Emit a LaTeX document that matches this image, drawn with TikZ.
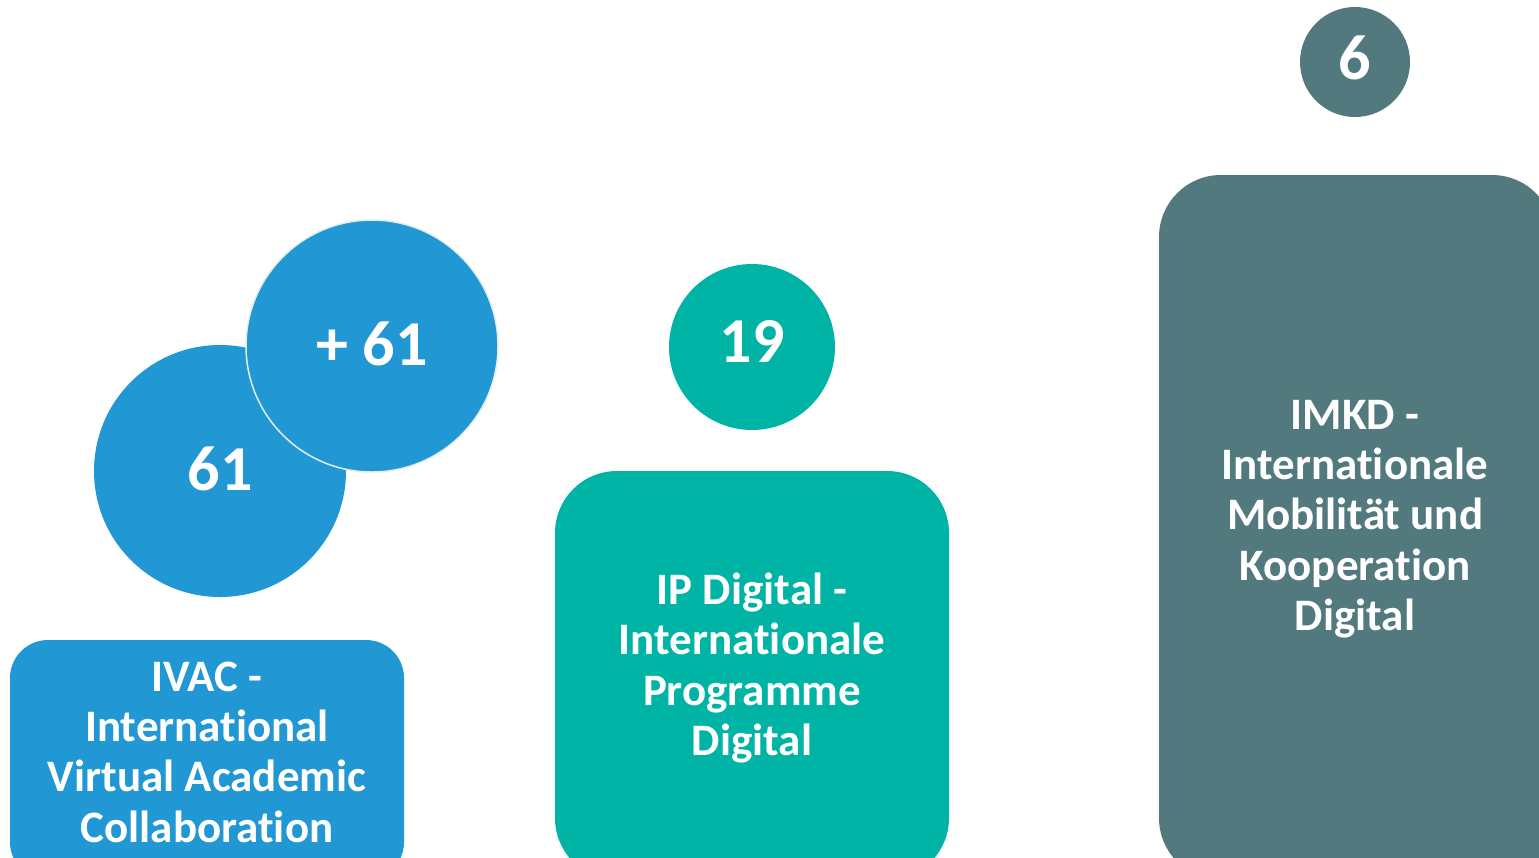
\documentclass[tikz,border=0pt]{standalone}
\usepackage{fontspec}
\setmainfont[Ligatures={NoCommon}]{Carlito}
\definecolor{cblue}{HTML}{2197D3}
\definecolor{cteal}{HTML}{00B4A5}
\definecolor{cslate}{HTML}{52797D}
\definecolor{cedge}{HTML}{E3EEF2}
\begin{document}
\begin{tikzpicture}[x=1pt,y=-1pt,
  num/.style={text=white,font=\fontsize{64}{64}\selectfont\bfseries},
  lbl/.style={text=white,align=center,font=\fontsize{45}{50.3}\selectfont\bfseries},
  disc/.style={circle,inner sep=0pt}]
\useasboundingbox (0,0) rectangle (1539,857);
\clip (0,0) rectangle (1539,857);
% boxes
\fill[cblue,rounded corners=38pt] (10,640) rectangle (404,880);
\fill[cteal,rounded corners=62pt] (555,471) rectangle (949,880);
\fill[cslate,rounded corners=62pt] (1159,175) rectangle (1554,880);
% circles
\node[disc,fill=cblue,minimum size=252pt] (c61) at (220,471) {};
\node[disc,fill=cblue,draw=cedge,line width=1.5pt,minimum size=252pt] (c61b) at (372,346) {};
\node[disc,fill=cteal,minimum size=166pt] (c19) at (752,347) {};
\node[disc,fill=cslate,minimum size=110pt] (c6) at (1355,62) {};
\node[num] (t61) at (220,469) {61};
\node[num] (t61b) at (372,344) {+ 61};
\node[num] (t19) at (752,342) {19};
\node[num] (t6) at (1355,58) {6};
% labels
\node[lbl] (ivac) at (207,752) {IVAC -\\International\\Virtual Academic\\Collaboration};
\node[lbl] (ip) at (752,668) {IP Digital -\\Internationale\\Programme\\Digital};
\node[lbl] (imkd) at (1355,519) {IMKD -\\Internationale\\Mobilität und\\Kooperation\\Digital};
\end{tikzpicture}
\end{document}
